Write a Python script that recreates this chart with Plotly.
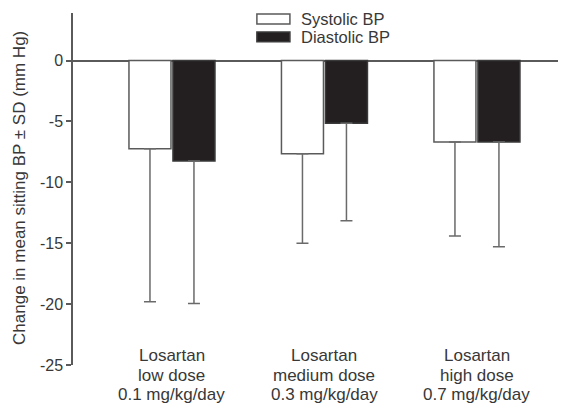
import plotly.graph_objects as go

categories = ["Losartan<br>low dose<br>0.1 mg/kg/day",
              "Losartan<br>medium dose<br>0.3 mg/kg/day",
              "Losartan<br>high dose<br>0.7 mg/kg/day"]
systolic_mean = [-7.25, -7.65, -6.7]
systolic_sd = [12.55, 7.35, 7.7]
diastolic_mean = [-8.25, -5.15, -6.7]
diastolic_sd = [11.7, 8.0, 8.6]
y_ticks = [0, -5, -10, -15, -20, -25]
series_names = ["Systolic BP", "Diastolic BP"]

FONT = "Liberation Sans, Arial, Helvetica, sans-serif"
TXT = "#383838"
EDGE = "#5a5a5a"

xpos = list(range(len(categories)))

fig = go.Figure()
fig.add_trace(go.Bar(
    x=xpos, y=systolic_mean, name=series_names[0],
    marker=dict(color="white", line=dict(color=EDGE, width=1.5)),
    error_y=dict(type="data", symmetric=False, array=[0] * 3, arrayminus=systolic_sd,
                 color="#6a6a6a", thickness=1.5, width=6),
    showlegend=False))
fig.add_trace(go.Bar(
    x=xpos, y=diastolic_mean, name=series_names[1],
    marker=dict(color="#231f20", line=dict(color="#3a3a3a", width=1.5)),
    error_y=dict(type="data", symmetric=False, array=[0] * 3, arrayminus=diastolic_sd,
                 color="#6a6a6a", thickness=1.5, width=6),
    showlegend=False))

# category labels, one annotation per line for tight line spacing
line_y = [0.0256, -0.0298, -0.0852]
for i, c in enumerate(categories):
    for ly, part in zip(line_y, c.split("<br>")):
        fig.add_annotation(x=i, xref="x", y=ly, yref="paper", text=part, showarrow=False,
                           xanchor="center", yanchor="middle",
                           font=dict(family=FONT, size=17, color=TXT))

# manual legend
fills = [("white", EDGE), ("#231f20", "#3a3a3a")]
ys = [(0.969, 0.997), (0.918, 0.946)]
for (fc, lc), (y0, y1), nm in zip(fills, ys, series_names):
    fig.add_shape(type="rect", xref="paper", yref="paper", x0=0.373, x1=0.440, y0=y0, y1=y1,
                  fillcolor=fc, line=dict(color=lc, width=1.5))
    fig.add_annotation(x=0.4585, xref="paper", y=(y0 + y1) / 2, yref="paper", text=nm,
                       showarrow=False, xanchor="left", yanchor="middle",
                       font=dict(family=FONT, size=16.5, color=TXT))

# y title
fig.add_annotation(x=-0.1075, xref="paper", y=0.503, yref="paper",
                   text="Change in mean sitting BP ± SD (mm Hg)", textangle=-90,
                   showarrow=False, xanchor="center", yanchor="middle",
                   font=dict(family=FONT, size=17, color=TXT))

# page has an 8px body margin: shrink figure and margins accordingly
fig.update_layout(
    width=558, height=396,
    margin=dict(l=65, r=0, t=5, b=39),
    paper_bgcolor="white", plot_bgcolor="white",
    barmode="group", bargap=0.423, bargroupgap=0.045,
    font=dict(family=FONT, size=16, color=TXT),
    xaxis=dict(range=[-0.649, 2.584], showticklabels=False, showline=False,
               showgrid=False, zeroline=False, ticks=""),
    yaxis=dict(range=[-25, 3.9], tickvals=y_ticks, ticktext=[str(v) for v in y_ticks],
               showgrid=False, showline=True, linecolor=EDGE, linewidth=1.5,
               ticks="outside", ticklen=5, tickwidth=1.5, tickcolor=EDGE,
               zeroline=True, zerolinecolor=EDGE, zerolinewidth=1.5,
               tickfont=dict(family=FONT, size=16, color=TXT)),
)

fig.write_html("out.html")
